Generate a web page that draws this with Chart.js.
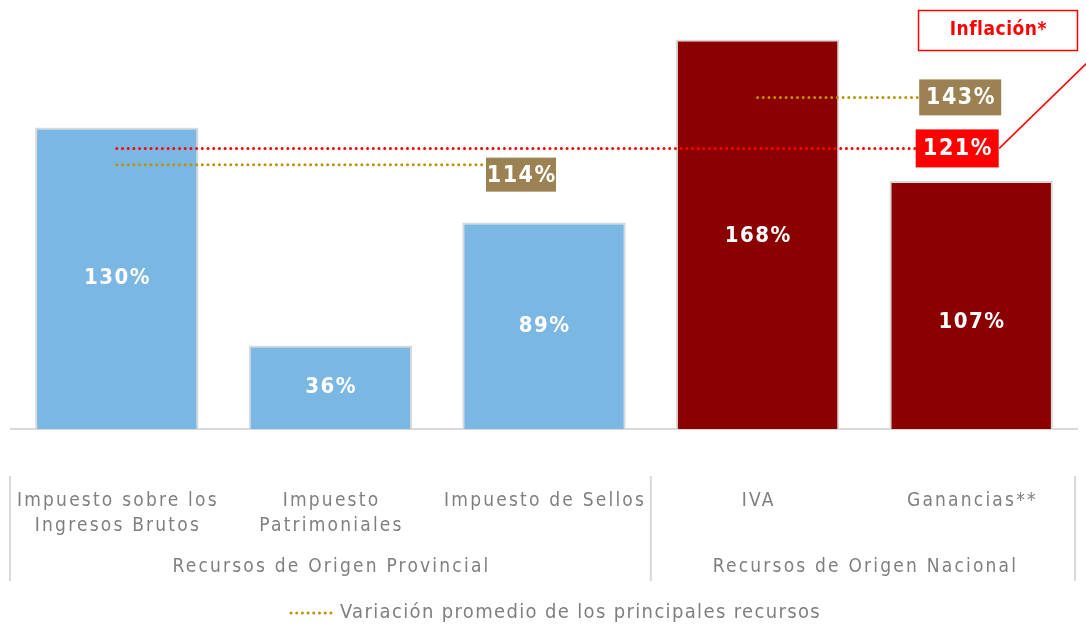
<!DOCTYPE html>
<html>
<head>
<meta charset="utf-8">
<script src="https://cdn.jsdelivr.net/npm/chart.js@4.4.1/dist/chart.umd.min.js"></script>
<style>
	html, body { margin:0; padding:0; background:#fff; }
	#wrap { position:relative; width:1086px; height:627px; }
</style>
</head>
<body>
<div id="wrap"><canvas id="c" width="1086" height="627"></canvas></div>
<script>
// datos
const categories = [['Impuesto sobre los','Ingresos Brutos'], ['Impuesto','Patrimoniales'], ['Impuesto de Sellos'], ['IVA'], ['Ganancias**']];
const variacion = [130, 36, 89, 168, 107];
const inflacion = [121, 121, 121, 121, 121];
const promProvincial = [114, 114, 114, null, null];
const promNacional = [null, null, null, 143, 143];
const groupLabels = ['Recursos de Origen Provincial', 'Recursos de Origen Nacional'];
const groupSpans = [[0, 2], [3, 4]];
const legendText = 'Variación promedio de los principales recursos';
const inflacionText = 'Inflación*';

const FONT = '"Liberation Sans Narrow", "DejaVu Sans Condensed", "Roboto", sans-serif';
const GREY = '#7f7f7f';
const barColors = ['#7AB7E3', '#7AB7E3', '#7AB7E3', '#8B0000', '#8B0000'];
const labelShift = [0, 0, 0, 2, 17]; // desplazamiento vertical de la etiqueta en la barra

const txt = (ctx, s, x, y, font, color, spacing) => {
	ctx.save();
	ctx.font = font;
	ctx.fillStyle = color;
	ctx.letterSpacing = (spacing || 0) + 'px';
	ctx.textAlign = 'center';
	ctx.textBaseline = 'middle';
	// compensate trailing letter spacing
	ctx.fillText(s, x + (spacing || 0) / 2, y);
	ctx.restore();
};

const tag = (ctx, s, cx, cy, w, h, bg) => {
	ctx.save();
	ctx.fillStyle = bg;
	ctx.fillRect(cx - w / 2, cy - h / 2, w, h);
	ctx.restore();
	txt(ctx, s, cx, cy + 1, 'bold 23px ' + FONT, '#fff', 1.5);
};

const decor = {
	id: 'decor',
	beforeDatasetsDraw(chart) {
		const {ctx, chartArea:ca, scales:{y}} = chart;
		ctx.save();
		ctx.strokeStyle = '#d9d9d9';
		ctx.lineWidth = 2;
		ctx.beginPath();
		ctx.moveTo(ca.left, y.getPixelForValue(0));
		ctx.lineTo(ca.right, y.getPixelForValue(0));
		ctx.stroke();
		ctx.restore();
	},
	afterDraw(chart) {
		const {ctx, chartArea:ca, scales:{x, y}} = chart;
		const bars = chart.getDatasetMeta(3).data;

		// valores dentro de barras
		bars.forEach((b, i) => {
			txt(ctx, variacion[i] + '%', b.x, (b.y + b.base) / 2 + labelShift[i], 'bold 22px ' + FONT, '#fff', 1.5);
		});

		// etiquetas de promedio / inflacion
		tag(ctx, promProvincial[2] + '%', x.getPixelForValue(2) - 23, y.getPixelForValue(promProvincial[2]) + 10, 70, 34, '#9C8253');
		tag(ctx, promNacional[4] + '%', x.getPixelForValue(4) - 11, y.getPixelForValue(promNacional[4]), 82, 36, '#9C8253');
		const iy = y.getPixelForValue(inflacion[4]);
		const ix = x.getPixelForValue(4) - 14;
		tag(ctx, inflacion[4] + '%', ix, iy, 83, 38, '#FF0000');

		// recuadro Inflación
		ctx.save();
		ctx.strokeStyle = '#FF0000';
		ctx.lineWidth = 1.5;
		ctx.beginPath();
		ctx.moveTo(ix + 42, iy);
		ctx.lineTo(1090, 60);
		ctx.stroke();
		ctx.fillStyle = '#fff';
		ctx.fillRect(918, 10, 160, 41);
		ctx.strokeRect(918.5, 10.5, 159, 40);
		ctx.restore();
		txt(ctx, inflacionText, 998, 30, 'bold 19px ' + FONT, '#FF0000', 0.5);

		// categorias
		categories.forEach((c, i) => {
			c.forEach((l, k) => {
				txt(ctx, l, x.getPixelForValue(i), 501 + k * 25, '19px ' + FONT, GREY, 2.2);
			});
		});

		// grupos
		const half = (x.getPixelForValue(1) - x.getPixelForValue(0)) / 2;
		ctx.save();
		ctx.strokeStyle = '#d9d9d9';
		ctx.lineWidth = 2;
		const seps = [ca.left, x.getPixelForValue(groupSpans[0][1]) + half, ca.right - 3];
		seps.forEach(sx => {
			ctx.beginPath();
			ctx.moveTo(sx, 476);
			ctx.lineTo(sx, 581);
			ctx.stroke();
		});
		ctx.restore();
		groupSpans.forEach((g, i) => {
			const cx = (x.getPixelForValue(g[0]) - half + x.getPixelForValue(g[1]) + half) / 2;
			txt(ctx, groupLabels[i], cx, 567, '19px ' + FONT, GREY, 2.2);
		});

		// leyenda
		ctx.save();
		ctx.strokeStyle = '#BF9000';
		ctx.lineWidth = 3;
		ctx.lineCap = 'round';
		ctx.setLineDash([0, 5.7]);
		ctx.beginPath();
		ctx.moveTo(291, 613);
		ctx.lineTo(333, 613);
		ctx.stroke();
		ctx.restore();
		ctx.save();
		ctx.font = '20px ' + FONT;
		ctx.letterSpacing = '1.35px';
		ctx.fillStyle = GREY;
		ctx.textBaseline = 'middle';
		ctx.fillText(legendText, 340, 613);
		ctx.restore();
	}
};

const dotted = (label, data, color) => ({
	type: 'line',
	label: label,
	data: data,
	borderColor: color,
	borderWidth: 3,
	borderDash: [0, 5.7],
	borderCapStyle: 'round',
	pointRadius: 0,
	fill: false,
	spanGaps: false,
	order: 1,
});

new Chart(document.getElementById('c'), {
	type: 'bar',
	data: {
		labels: categories,
		datasets: [
			dotted('Inflación', inflacion, '#FF0000'),
			dotted('Promedio provincial', promProvincial, '#BF9000'),
			dotted('Promedio nacional', promNacional, '#BF9000'),
			{
				label: 'Variación',
				data: variacion,
				backgroundColor: barColors,
				borderColor: '#d9d9d9',
				borderWidth: {top:2, left:2, right:2, bottom:0},
				categoryPercentage: 1,
				barPercentage: 0.765,
				order: 2,
			},
		]
	},
	options: {
		responsive: false,
		animation: false,
		layout: { padding: {left:10, right:8, top:0, bottom:198} },
		plugins: {
			legend: { display: false },
			tooltip: { enabled: false },
		},
		scales: {
			x: { display: false },
			y: { display: false, min: 0, max: 185 },
		}
	},
	plugins: [decor]
});
</script>
</body>
</html>
